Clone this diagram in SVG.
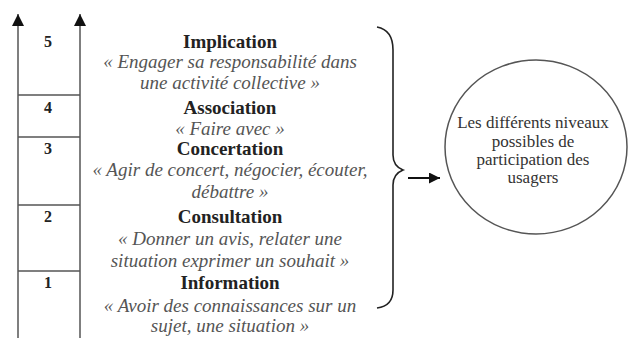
<svg xmlns="http://www.w3.org/2000/svg" width="628" height="338" viewBox="0 0 628 338">
<defs>
<marker id="ah" viewBox="0 0 10 10" refX="10" refY="5" markerWidth="11" markerHeight="11" markerUnits="userSpaceOnUse" orient="auto"><path d="M0,0 L10,5 L0,10 Z" fill="#111"/></marker>
<marker id="ah2" viewBox="0 0 10 10" refX="10" refY="5" markerWidth="12" markerHeight="12" markerUnits="userSpaceOnUse" orient="auto"><path d="M0,0 L10,5 L0,10 Z" fill="#111"/></marker>
</defs>
<style>
.ln{stroke:#555;stroke-width:1.5;fill:none}
.num{font-family:"Liberation Serif","Times New Roman","DejaVu Serif",serif;font-weight:bold;font-size:16px;fill:#222;text-anchor:middle}
.t{font-family:"Liberation Serif","Times New Roman","DejaVu Serif",serif;font-weight:bold;font-size:19px;fill:#222;text-anchor:middle}
.q{font-family:"Liberation Serif","Times New Roman","DejaVu Serif",serif;font-style:italic;font-size:19px;fill:#555;text-anchor:middle}
.c{font-family:"Liberation Serif","Times New Roman","DejaVu Serif",serif;font-size:17px;fill:#333;text-anchor:middle}
</style>
<rect width="628" height="338" fill="#fff"/>
<g id="ladder">
<line class="ln" x1="18" y1="338" x2="18" y2="14" marker-end="url(#ah2)"/>
<line class="ln" x1="80" y1="338" x2="80" y2="14" marker-end="url(#ah2)"/>
<line class="ln" x1="18" y1="95" x2="80" y2="95"/>
<line class="ln" x1="18" y1="137" x2="80" y2="137"/>
<line class="ln" x1="18" y1="205" x2="80" y2="205"/>
<line class="ln" x1="18" y1="271" x2="80" y2="271"/>
<text class="num" x="48" y="47">5</text>
<text class="num" x="48" y="113">4</text>
<text class="num" x="48" y="154">3</text>
<text class="num" x="48" y="222">2</text>
<text class="num" x="48" y="288">1</text>
</g>
<g id="level5">
<text class="t" x="230" y="48">Implication</text>
<text class="q" x="230" y="68">« Engager sa responsabilité dans</text>
<text class="q" x="230" y="89">une activité collective »</text>
</g>
<g id="level4">
<text class="t" x="230" y="114">Association</text>
<text class="q" x="230" y="135">« Faire avec »</text>
</g>
<g id="level3">
<text class="t" x="230" y="155">Concertation</text>
<text class="q" x="230" y="176">« Agir de concert, négocier, écouter,</text>
<text class="q" x="230" y="198">débattre »</text>
</g>
<g id="level2">
<text class="t" x="230" y="223">Consultation</text>
<text class="q" x="230" y="245">« Donner un avis, relater une</text>
<text class="q" x="230" y="267">situation exprimer un souhait »</text>
</g>
<g id="level1">
<text class="t" x="230" y="289">Information</text>
<text class="q" x="230" y="312">« Avoir des connaissances sur un</text>
<text class="q" x="230" y="332">sujet, une situation »</text>
</g>
<g id="brace">
<path d="M377,27 Q393,30 393,50 L393,155 Q393,166 403,170 Q393,174 393,185 L393,290 Q393,306 377,308" fill="none" stroke="#222" stroke-width="1.6"/>
</g>
<g id="connectors">
<line x1="408" y1="178" x2="440" y2="178" stroke="#111" stroke-width="2" marker-end="url(#ah)"/>
</g>
<g id="outcome">
<ellipse cx="536" cy="147" rx="91" ry="87" fill="none" stroke="#555" stroke-width="1.5"/>
<text class="c" x="533" y="128">Les différents niveaux</text>
<text class="c" x="533" y="147">possibles de</text>
<text class="c" x="533" y="165">participation des</text>
<text class="c" x="533" y="183">usagers</text>
</g>
</svg>
